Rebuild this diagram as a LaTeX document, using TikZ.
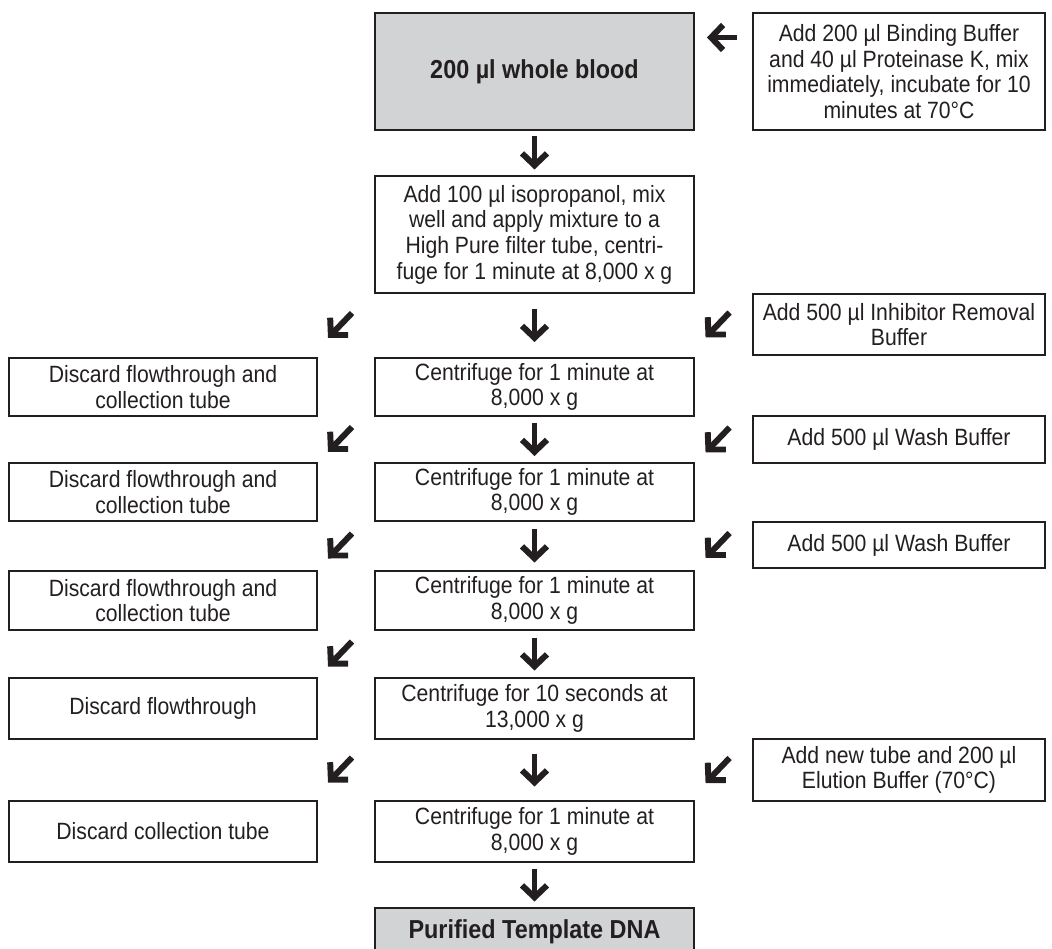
\documentclass[tikz,border=0pt]{standalone}
\usepackage{fontspec}
\setmainfont{Liberation Sans}[FakeStretch=0.9]
\usetikzlibrary{arrows.meta,calc}
\definecolor{ink}{RGB}{35,31,32}
\definecolor{boxgray}{RGB}{209,211,212}
\tikzset{
  bigarrow/.style={draw=ink,line width=3.4pt,-{Straight Barb[length=2.4mm,width=5mm]}},
}
\begin{document}
\begin{tikzpicture}
 [x=0.02cm,y=-0.02cm,
  every node/.style={draw=ink,line width=1.1pt,text=ink,align=center,inner sep=0pt,font=\fontsize{13.4}{14.6}\selectfont},
  midbox/.style={minimum width=6.38cm},
  leftbox/.style={minimum width=6.16cm},
  rightbox/.style={minimum width=5.84cm},
  graybox/.style={midbox,fill=boxgray,font=\fontsize{14.8}{16}\selectfont\bfseries}]
  \clip (0,0) rectangle (1052,949);

  \node[graybox,minimum height=2.34cm] (blood) at (534.5,71.5) {200 µl whole blood};
  \node[rightbox,minimum height=2.34cm] (lysis) at (899,71.5) {Add 200 µl Binding Buffer\\and 40 µl Proteinase K, mix\\immediately, incubate for 10\\minutes at 70°C};
  \node[midbox,minimum height=2.34cm] (mix) at (534.5,234.5) {Add 100 µl isopropanol, mix\\well and apply mixture to a\\High Pure filter tube, centri-\\fuge for 1 minute at 8,000 x g};

  \node[rightbox,minimum height=1.22cm] (inhib) at (899,324.5) {Add 500 µl Inhibitor Removal\\Buffer};
  \node[midbox,minimum height=1.16cm] (spin1) at (534.5,387) {Centrifuge for 1 minute at\\8,000 x g};
  \node[leftbox,minimum height=1.16cm] (waste1) at (163,387) {Discard flowthrough and\\collection tube};

  \node[rightbox,minimum height=0.94cm] (wash1) at (899,439.5) {Add 500 µl Wash Buffer};
  \node[midbox,minimum height=1.16cm] (spin2) at (534.5,492) {Centrifuge for 1 minute at\\8,000 x g};
  \node[leftbox,minimum height=1.16cm] (waste2) at (163,492) {Discard flowthrough and\\collection tube};

  \node[rightbox,minimum height=0.92cm] (wash2) at (899,545) {Add 500 µl Wash Buffer};
  \node[midbox,minimum height=1.18cm] (spin3) at (534.5,600.5) {Centrifuge for 1 minute at\\8,000 x g};
  \node[leftbox,minimum height=1.18cm] (waste3) at (163,600.5) {Discard flowthrough and\\collection tube};

  \node[midbox,minimum height=1.22cm] (spin4) at (534.5,708.5) {Centrifuge for 10 seconds at\\13,000 x g};
  \node[leftbox,minimum height=1.22cm] (waste4) at (163,708.5) {Discard flowthrough};

  \node[rightbox,minimum height=1.24cm] (elute) at (899,770) {Add new tube and 200 µl\\Elution Buffer (70°C)};
  \node[midbox,minimum height=1.22cm] (spin5) at (534.5,831.5) {Centrifuge for 1 minute at\\8,000 x g};
  \node[leftbox,minimum height=1.22cm] (waste5) at (163,831.5) {Discard collection tube};

  \node[graybox,minimum height=0.96cm] (dna) at (534.5,932) {Purified Template DNA};

  % main column
  \foreach \from/\to in {blood/mix,mix/spin1,spin1/spin2,spin2/spin3,spin3/spin4,spin4/spin5,spin5/dna}
    \draw[bigarrow] ($(\from.south)!.5!(\to.north)+(0,-16.5)$) -- ($(\from.south)!.5!(\to.north)+(0,16.5)$);

  % to waste
  \foreach \from/\to in {mix/waste1,spin1/waste2,spin2/waste3,spin3/waste4,spin4/waste5}
    \draw[bigarrow] ($(\from.south west)!.5!(\to.north east)+(6,-12.5)$) -- ++(-24,25);

  % reagents in
  \foreach \from in {inhib,wash1,wash2,elute}
    \draw[bigarrow] ($(\from.west)+(-22.5,-12)$) -- ++(-24,25);
  \draw[bigarrow] ($(lysis.west)+(-15,-34)$) -- ($(blood.east)+(12,-34)$);
\end{tikzpicture}
\end{document}
